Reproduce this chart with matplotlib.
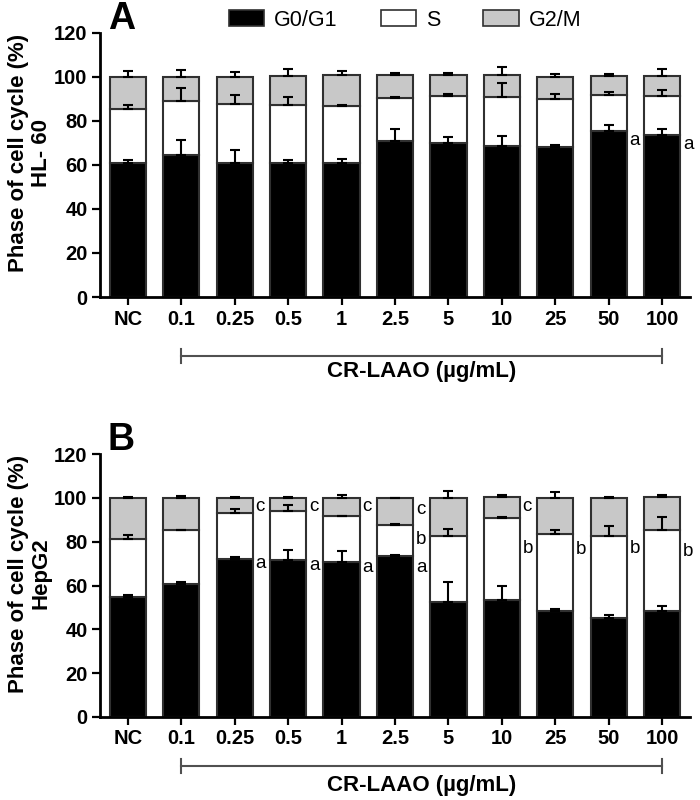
import matplotlib
matplotlib.use("Agg")
import matplotlib.pyplot as plt
import numpy as np
from matplotlib.patches import Patch
from matplotlib.transforms import blended_transform_factory

plt.rcParams['font.family'] = ['Liberation Sans', 'DejaVu Sans']

categories = ["NC", "0.1", "0.25", "0.5", "1", "2.5", "5", "10", "25", "50", "100"]

# Panel A : HL-60
g0g1_A = [61.1, 64.4, 61.1, 60.9, 61.1, 70.8, 69.8, 68.7, 68.2, 75.6, 73.7]
g0g1_A_err = [1.0, 6.9, 5.6, 1.5, 1.5, 5.7, 3.0, 4.6, 1.0, 2.4, 2.8]
s_A = [24.2, 24.9, 26.5, 26.4, 25.6, 19.6, 21.5, 22.1, 21.9, 16.2, 17.6]
s_A_err = [2.2, 5.8, 4.4, 3.4, 0.6, 0.4, 1.2, 6.6, 2.1, 1.6, 2.7]
g2m_A = [14.7, 10.7, 12.4, 13.2, 14.2, 10.4, 9.5, 10.0, 9.9, 8.7, 9.2]
g2m_A_err = [2.6, 3.4, 2.3, 3.3, 1.8, 1.2, 0.9, 3.6, 1.2, 0.7, 3.3]
annot_A = [(9, "a", 71.0), (10, "a", 69.5)]

# Panel B : HepG2
g0g1_B = [54.6, 60.6, 72.3, 71.7, 70.7, 73.3, 52.6, 53.2, 48.2, 45.0, 48.5]
g0g1_B_err = [0.9, 1.1, 0.8, 4.3, 5.1, 0.5, 9.0, 6.8, 1.3, 1.7, 2.0]
s_B = [26.6, 24.5, 21.0, 22.1, 20.8, 14.2, 30.1, 37.8, 35.4, 37.4, 36.8]
s_B_err = [1.8, 0.3, 1.4, 3.0, 0.3, 0.5, 2.9, 0.4, 1.5, 4.8, 5.9]
g2m_B = [18.6, 14.6, 6.5, 6.2, 8.3, 12.3, 17.1, 9.5, 16.1, 17.3, 15.2]
g2m_B_err = [0.7, 1.2, 0.4, 0.3, 1.7, 0.2, 3.5, 0.9, 2.9, 0.6, 0.9]
annot_B = [(2, "a", 70.2), (2, "c", 96.0), (3, "a", 69.1), (3, "c", 96.0),
           (4, "a", 68.0), (4, "c", 96.0), (5, "a", 68.0), (5, "b", 80.8),
           (5, "c", 94.8), (7, "b", 76.7), (7, "c", 96.0), (8, "b", 76.3),
           (9, "b", 76.7), (10, "b", 75.5)]

phase_names = ["G0/G1", "S", "G2/M"]
phase_colors = ["#000000", "#ffffff", "#c8c8c8"]
cell_lines = ["HL- 60", "HepG2"]
xlabel = "CR-LAAO (\u00b5g/mL)"
ylabel = "Phase of cell cycle (%)"

W, H = 700, 800
fig = plt.figure(figsize=(7, 8), dpi=100)

def px_axes(left, top, right, bottom):
    return fig.add_axes([left / W, 1 - bottom / H, (right - left) / W, (bottom - top) / H])

axA = px_axes(100, 33, 690, 297)
axB = px_axes(100, 454, 690, 717)

def draw_panel(ax, g0, g0e, s, se, g2, g2e, annots, line_name, letter, yb, yt):
    x = np.arange(len(categories))
    width = 0.68
    edge = "#303030"
    g0 = np.array(g0); s = np.array(s); g2 = np.array(g2)
    ax.bar(x, g0, width, color=phase_colors[0], edgecolor=edge, linewidth=1.5, zorder=2)
    ax.bar(x, s, width, bottom=g0, color=phase_colors[1], edgecolor=edge, linewidth=1.5, zorder=2)
    ax.bar(x, g2, width, bottom=g0 + s, color=phase_colors[2], edgecolor=edge, linewidth=1.5, zorder=2)
    for tops, err in [(g0, g0e), (g0 + s, se), (g0 + s + g2, g2e)]:
        err = np.array(err)
        ax.errorbar(x, tops, yerr=[np.zeros_like(err), err], fmt="none", ecolor="black",
                    elinewidth=1.5, capsize=3.8, capthick=1.5, zorder=3)
    for i, lab, yv in annots:
        ax.text(i + width / 2 + 0.05, yv, lab, ha="left", va="center", fontsize=13.5, color="black")
    ax.set_xlim(-0.52, 10.52)
    ax.set_ylim(0, 120)
    ax.set_yticks(np.arange(0, 121, 20))
    ax.set_xticks(x)
    ax.set_xticklabels(categories)
    for sp in ["top", "right"]:
        ax.spines[sp].set_visible(False)
    for sp in ["left", "bottom"]:
        ax.spines[sp].set_linewidth(2.0)
    ax.tick_params(axis="both", direction="out", length=6, width=1.6, labelsize=14.5, pad=3)
    for t in ax.get_xticklabels() + ax.get_yticklabels():
        t.set_fontweight("bold")
    # bracket below
    tr = blended_transform_factory(ax.transData, ax.transAxes)
    ax.plot([1, 10], [yb, yb], color="#505050", lw=1.5, transform=tr, clip_on=False)
    for xx in [1, 10]:
        ax.plot([xx, xx], [yb - 0.026, yb + 0.026], color="#505050", lw=1.5, transform=tr, clip_on=False)
    ax.text(5.5, yt, xlabel, transform=tr, ha="center", va="center", fontsize=16, fontweight="bold")
    # y label
    bb = ax.get_position()
    fig.text(30 / W, bb.y0 + bb.height / 2 + 12 / H, ylabel + "\n" + line_name, rotation=90,
             ha="center", va="center", fontsize=16, fontweight="bold", linespacing=1.1)
    fig.text(bb.x0 + 8 / W, bb.y1 + 14 / H, letter, ha="left", va="center", fontsize=27, fontweight="bold")

draw_panel(axA, g0g1_A, g0g1_A_err, s_A, s_A_err, g2m_A, g2m_A_err, annot_A, cell_lines[0], "A",
           -0.223, -0.282)
draw_panel(axB, g0g1_B, g0g1_B_err, s_B, s_B_err, g2m_B, g2m_B_err, annot_B, cell_lines[1], "B",
           -0.186, -0.262)

handles = [Patch(facecolor=c, edgecolor="#303030", linewidth=1.2) for c in phase_colors]
fig.legend(handles, phase_names, loc="upper center", bbox_to_anchor=(405 / W, 1.012), ncol=3,
           frameon=False, fontsize=15.5, handlelength=1.65, handleheight=0.75, columnspacing=2.0,
           handletextpad=0.45)

fig.savefig("out.png", dpi=100)
